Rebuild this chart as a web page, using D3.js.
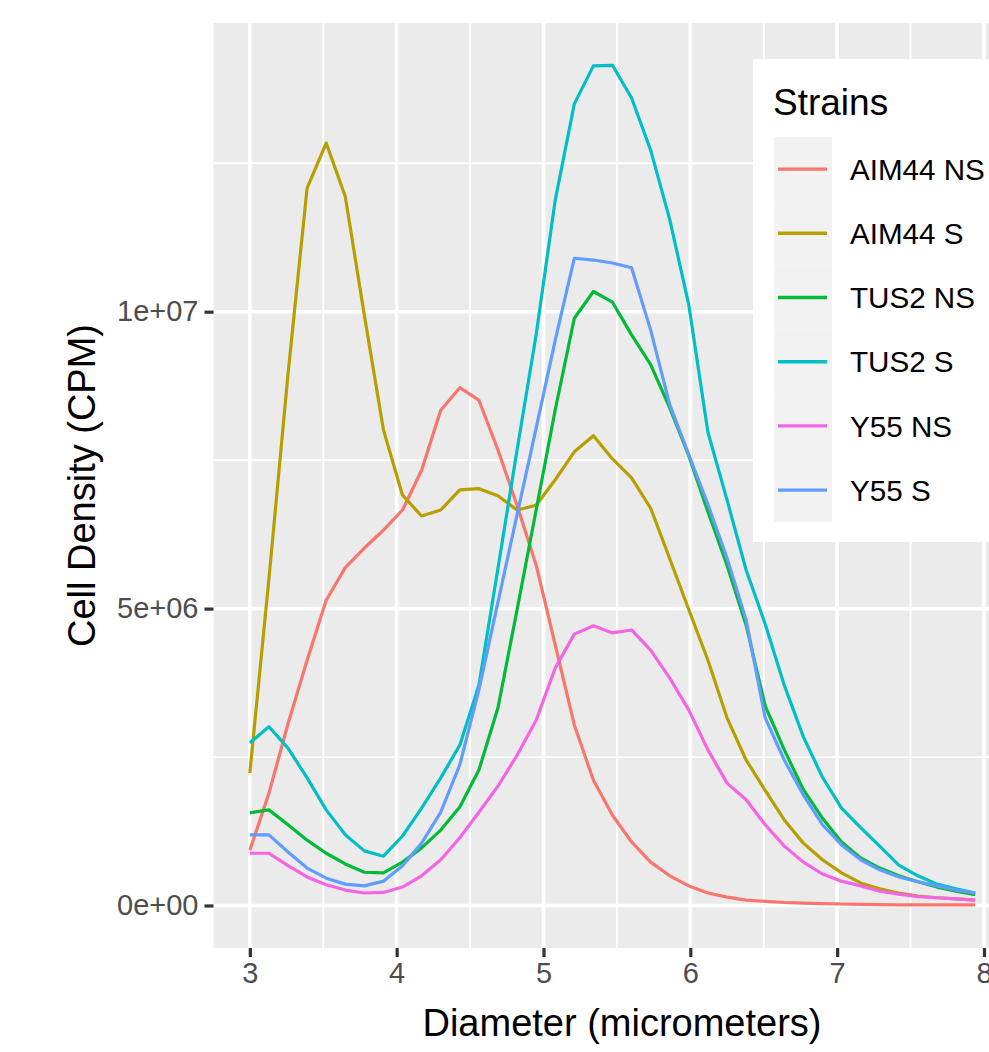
<!DOCTYPE html>
<html>
<head>
<meta charset="utf-8">
<script src="https://cdn.jsdelivr.net/npm/d3@7"></script>
<style>
  html, body { margin: 0; padding: 0; background: #ffffff; }
  svg { display: block; font-family: "Liberation Sans", Arial, Helvetica, sans-serif; }
</style>
</head>
<body>
<svg id="chart" width="989" height="1052"></svg>
<script>
// ---- data (cell density in millions of CPM) ----
const diameters = [3.00,3.13,3.26,3.39,3.52,3.65,3.78,3.91,4.04,4.17,4.30,4.43,4.56,4.69,4.82,4.95,5.08,5.21,5.34,5.47,5.60,5.73,5.86,5.99,6.12,6.25,6.38,6.51,6.64,6.77,6.90,7.03,7.16,7.29,7.42,7.55,7.68,7.81,7.94];

const strains = ["AIM44 NS","AIM44 S","TUS2 NS","TUS2 S","Y55 NS","Y55 S"];
const strainColors = ["#F8766D","#B79F00","#00BA38","#00BFC4","#F564E3","#619CFF"];

const aim44NS = [0.93,1.89,3.06,4.13,5.14,5.69,6.02,6.32,6.66,7.33,8.34,8.72,8.51,7.67,6.74,5.73,4.39,3.04,2.11,1.52,1.07,0.73,0.50,0.33,0.21,0.14,0.09,0.07,0.05,0.04,0.03,0.025,0.02,0.015,0.01,0.01,0.01,0.01,0.01];
const aim44S  = [2.23,5.50,8.95,12.08,12.84,11.94,9.94,8.01,6.91,6.56,6.66,7.00,7.02,6.90,6.66,6.74,7.17,7.64,7.91,7.52,7.20,6.69,5.84,4.98,4.13,3.16,2.45,1.94,1.44,1.05,0.77,0.55,0.38,0.28,0.21,0.16,0.13,0.11,0.09];
const tus2NS  = [1.56,1.61,1.36,1.10,0.88,0.70,0.56,0.55,0.73,0.97,1.27,1.66,2.28,3.33,4.98,6.66,8.35,9.89,10.34,10.16,9.61,9.11,8.38,7.57,6.63,5.73,4.72,3.36,2.62,1.95,1.47,1.07,0.80,0.63,0.50,0.40,0.31,0.24,0.18];
const tus2S   = [2.74,3.01,2.65,2.15,1.61,1.19,0.92,0.83,1.17,1.64,2.15,2.70,3.71,5.68,7.67,9.61,11.88,13.50,14.14,14.15,13.60,12.72,11.55,10.11,7.97,6.83,5.65,4.74,3.71,2.84,2.16,1.64,1.31,1.00,0.68,0.50,0.36,0.28,0.21];
const y55NS   = [0.88,0.88,0.67,0.48,0.35,0.26,0.21,0.22,0.31,0.50,0.77,1.14,1.57,2.01,2.53,3.12,4.00,4.57,4.71,4.59,4.64,4.30,3.83,3.29,2.62,2.06,1.78,1.36,1.00,0.73,0.53,0.41,0.33,0.24,0.19,0.15,0.13,0.11,0.09];
const y55S    = [1.19,1.19,0.90,0.63,0.46,0.36,0.33,0.41,0.67,1.05,1.57,2.37,3.63,5.11,6.58,8.04,9.52,10.90,10.87,10.82,10.74,9.69,8.43,7.59,6.75,5.85,4.81,3.16,2.45,1.86,1.36,1.02,0.77,0.60,0.48,0.40,0.33,0.26,0.21];

const seriesValues = [aim44NS, aim44S, tus2NS, tus2S, y55NS, y55S];

const xTicks = [3,4,5,6,7,8];
const xMinor = [3.5,4.5,5.5,6.5,7.5];
const yTicks = [0,5,10];
const yTickLabels = ["0e+00","5e+06","1e+07"];
const yMinor = [2.5,7.5,12.5];

const xTitle = "Diameter (micrometers)";
const yTitle = "Cell Density (CPM)";
const legendTitle = "Strains";

// ---- layout ----
const svg = d3.select("#chart");
const panel = {left: 213.5, right: 1011.5, top: 23, bottom: 948};

const x = d3.scaleLinear().domain([2.7525, 8.1875]).range([panel.left, panel.right]);
const y = d3.scaleLinear().domain([-0.716, 14.862]).range([panel.bottom, panel.top]);

svg.append("defs").append("clipPath").attr("id","clip")
  .append("rect").attr("x",panel.left).attr("y",panel.top)
  .attr("width",panel.right-panel.left).attr("height",panel.bottom-panel.top);

svg.append("rect").attr("x",panel.left).attr("y",panel.top)
  .attr("width",panel.right-panel.left).attr("height",panel.bottom-panel.top)
  .attr("fill","#EBEBEB");

const grid = svg.append("g").attr("clip-path","url(#clip)");
grid.selectAll(".ymin").data(yMinor).enter().append("line")
  .attr("x1",panel.left).attr("x2",panel.right)
  .attr("y1",d=>y(d)).attr("y2",d=>y(d))
  .attr("stroke","#fff").attr("stroke-width",1.8);
grid.selectAll(".xmin").data(xMinor).enter().append("line")
  .attr("y1",panel.top).attr("y2",panel.bottom)
  .attr("x1",d=>x(d)).attr("x2",d=>x(d))
  .attr("stroke","#fff").attr("stroke-width",1.8);
grid.selectAll(".ymaj").data(yTicks).enter().append("line")
  .attr("x1",panel.left).attr("x2",panel.right)
  .attr("y1",d=>y(d)).attr("y2",d=>y(d))
  .attr("stroke","#fff").attr("stroke-width",3.6);
grid.selectAll(".xmaj").data(xTicks).enter().append("line")
  .attr("y1",panel.top).attr("y2",panel.bottom)
  .attr("x1",d=>x(d)).attr("x2",d=>x(d))
  .attr("stroke","#fff").attr("stroke-width",3.6);

// lines
const line = d3.line().x((d,i)=>x(diameters[i])).y(d=>y(d));
const lines = svg.append("g").attr("clip-path","url(#clip)");
seriesValues.forEach((vals,k)=>{
  lines.append("path").datum(vals)
    .attr("d",line).attr("fill","none")
    .attr("stroke",strainColors[k]).attr("stroke-width",3.2)
    .attr("stroke-linejoin","round").attr("stroke-linecap","butt");
});

// axes
const xAxis = d3.axisBottom(x).tickValues(xTicks).tickFormat(d3.format("d"))
  .tickSize(9).tickPadding(5);
const gx = svg.append("g").attr("transform",`translate(0,${panel.bottom})`).call(xAxis);
gx.select(".domain").remove();
gx.selectAll(".tick line").attr("stroke","#333333").attr("stroke-width",3.2);
gx.selectAll(".tick text").attr("fill","#4D4D4D").attr("font-size",29)
  .attr("font-family","Liberation Sans, Arial, sans-serif");

const yAxis = d3.axisLeft(y).tickValues(yTicks).tickFormat((d,i)=>yTickLabels[i])
  .tickSize(9).tickPadding(6);
const gy = svg.append("g").attr("transform",`translate(${panel.left},0)`).call(yAxis);
gy.select(".domain").remove();
gy.selectAll(".tick line").attr("stroke","#333333").attr("stroke-width",3.2);
gy.selectAll(".tick text").attr("fill","#4D4D4D").attr("font-size",29)
  .attr("font-family","Liberation Sans, Arial, sans-serif");

// axis titles
svg.append("text").attr("x",622).attr("y",1036)
  .attr("text-anchor","middle").attr("font-size",38).attr("fill","#000")
  .text(xTitle);
svg.append("text").attr("transform",`translate(95,${(panel.top+panel.bottom)/2}) rotate(-90)`)
  .attr("text-anchor","middle").attr("font-size",38).attr("fill","#000")
  .text(yTitle);

// legend
const lg = svg.append("g");
lg.append("rect").attr("x",753).attr("y",59).attr("width",260).attr("height",483).attr("fill","#fff");
lg.append("text").attr("x",773).attr("y",115).attr("font-size",37).attr("fill","#000").text(legendTitle);
const keyH = 64.2, keyTop = 137;
strains.forEach((s,k)=>{
  const cy = keyTop + keyH*k + keyH/2;
  lg.append("rect").attr("x",774).attr("y",keyTop+keyH*k).attr("width",58).attr("height",keyH)
    .attr("fill","#F2F2F2");
  lg.append("line").attr("x1",778).attr("x2",827).attr("y1",cy).attr("y2",cy)
    .attr("stroke",strainColors[k]).attr("stroke-width",3.4);
  lg.append("text").attr("x",850).attr("y",cy).attr("dy","0.36em")
    .attr("font-size",29.6).attr("fill","#000").text(s);
});
</script>
</body>
</html>
